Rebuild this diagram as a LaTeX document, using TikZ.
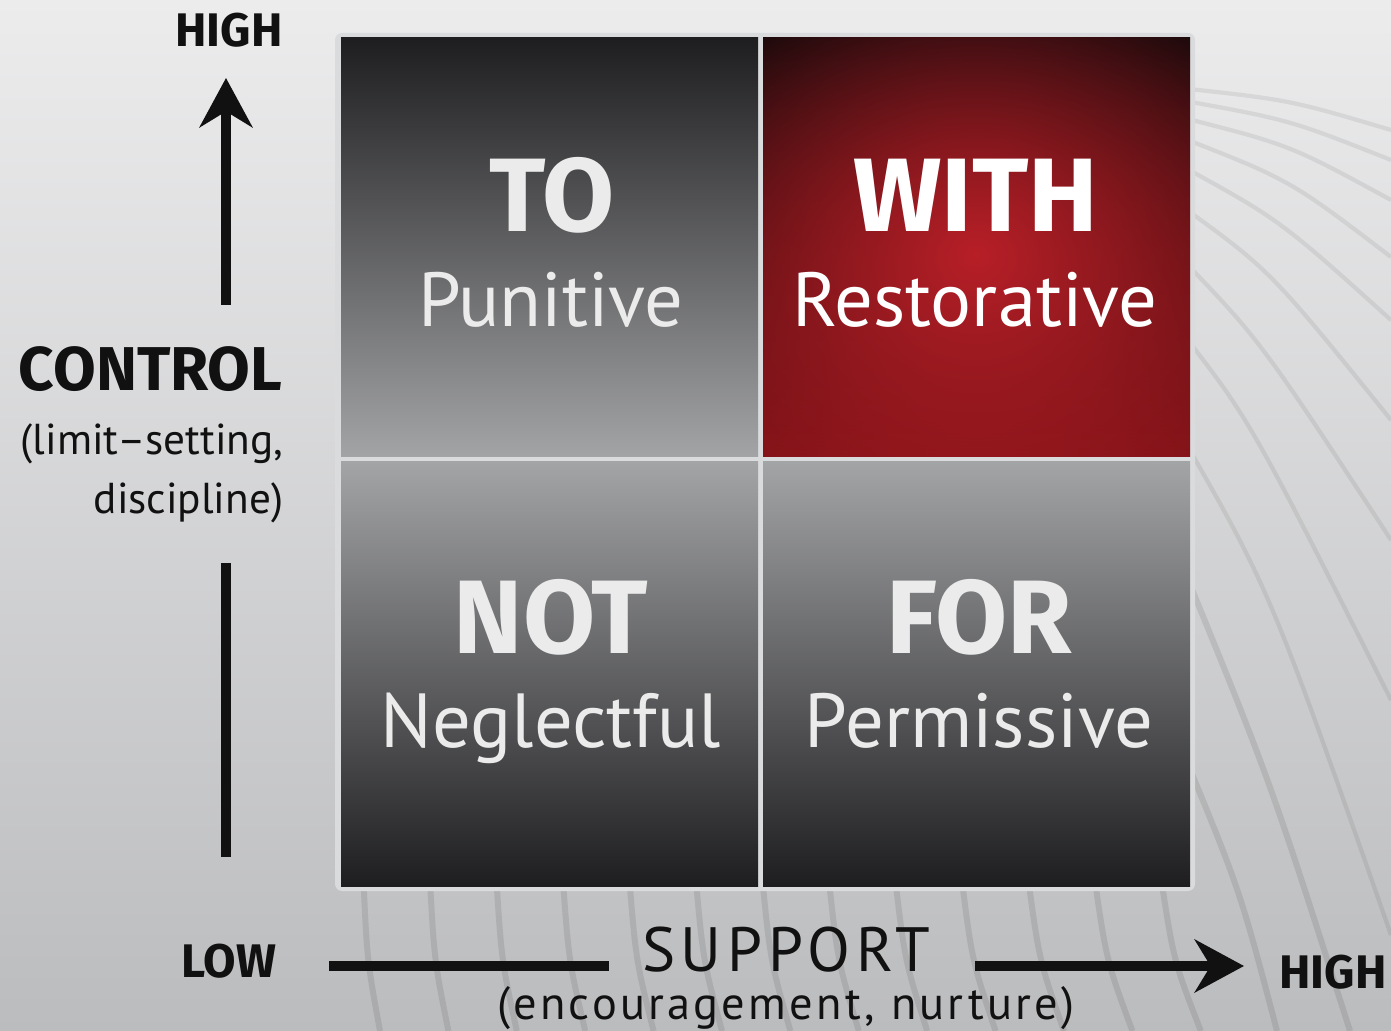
\documentclass[tikz,border=0pt]{standalone}
\usepackage{fontspec}
\setmainfont{PT Sans}
\newfontfamily\headfont{Fira Sans}
\usetikzlibrary{arrows.meta, calc, fadings}

\definecolor{bgtop}{HTML}{ECECED}
\definecolor{bgbot}{HTML}{BBBCBE}
\definecolor{framecol}{HTML}{DADBDC}
\definecolor{celldark}{HTML}{1E1E20}
\definecolor{celllight}{HTML}{A3A4A6}
\definecolor{redtop}{HTML}{1C0A0C}
\definecolor{redbot}{HTML}{821318}
\definecolor{redglow}{HTML}{B81F27}
\definecolor{ink}{HTML}{111111}
\definecolor{celltext}{HTML}{EBEBEB}

\tikzfading[name=glowfade, inner color=transparent!0, outer color=transparent!100]

\tikzset{
  axis/.style={ink, line width=2.6pt},
  tip/.style={-{Stealth[length=14pt, width=15pt, inset=4.5pt]}},
  bgline/.style={black, opacity=0.09, line width=1.7pt},
  thinline/.style={bgline, opacity=0.07, line width=1.2pt},
  axisword/.style={ink, anchor=base, inner sep=0pt, font=\fontsize{13.4}{16}\headfont\bfseries},
  axistitle/.style={ink, anchor=base, inner sep=0pt, font=\fontsize{17.8}{20}\selectfont},
  axisnote/.style={ink, anchor=base east, inner sep=0pt, font=\fontsize{12.3}{16}\selectfont},
  celltitle/.style={celltext, anchor=base, inner sep=0pt, font=\fontsize{29.7}{32}\headfont\bfseries},
  cellsub/.style={celltext, anchor=base, inner sep=0pt, font=\fontsize{21.8}{26}\selectfont},
}

\begin{document}
\begin{tikzpicture}[x=0.01cm, y=-0.01cm]
  \useasboundingbox (0,0) rectangle (1391,1031);
  \shade[top color=bgtop, bottom color=bgbot] (0,0) rectangle (1391,1031);

  % swirl lines in the background
  \begin{scope}
    \clip (0,0) rectangle (1391,1031);
    \foreach \ey/\kx/\ky/\xy in {88/1290/100/130, 100/1290/120/160, 117/1290/145/200,
        137/1290/180/257, 165/1280/220/320, 205/1270/270/420, 257/1260/340/540,
        330/1250/420/700, 433/1270/590/935}
      \draw[thinline] (1180,\ey) .. controls (\kx,\ky) .. (1391,\xy);
    \draw[bgline] (1180,560) .. controls (1270,780) .. (1350,1031);
    \draw[bgline] (1180,745) .. controls (1240,890) .. (1277,1031);
    \foreach \k in {0,...,12}
      \draw[bgline] ({363+66.4*\k},870) .. controls ({367+67.2*\k},960) .. ({380+68.4*\k},1031);
  \end{scope}

  % the grid
  \fill[framecol, rounded corners=2pt] (335,33) rectangle (1195,891);
  \shade[top color=celldark, bottom color=celllight] (341,38) rectangle (758,457);
  \shade[top color=redtop, bottom color=redbot] (763,38) rectangle (1190,457);
  \begin{scope}
    \clip (763,38) rectangle (1190,457);
    \fill[redglow, path fading=glowfade] (976,255) ellipse [x radius=330, y radius=290];
  \end{scope}
  \shade[top color=celllight, bottom color=celldark] (341,462) rectangle (758,886);
  \shade[top color=celllight, bottom color=celldark] (763,462) rectangle (1190,886);

  \node[celltitle] (to) at (552,232) {TO};
  \node[cellsub] (punitive) at (551,327) {Punitive};
  \node[celltitle, white] (with) at (976,232) {WITH};
  \node[cellsub, white] (restorative) at (975,327) {Restorative};
  \node[celltitle] (not) at (551,653) {NOT};
  \node[cellsub] (neglectful) at (551,747) {Neglectful};
  \node[celltitle] (for) at (979,653) {FOR};
  \node[cellsub] (permissive) at (979,747) {Permissive};

  % control axis
  \node[axisword] (highup) at (229,47) {HIGH};
  \node[axisword, anchor=base east, font=\fontsize{17.6}{20}\headfont\bfseries] (control) at (283,391) {CONTROL};
  \node[axisnote] (limit) at (284,455) {(limit–setting,};
  \node[axisnote] (discipline) at (284,514) {discipline)};
  \node[axisword] (low) at (229,977) {LOW};
  \coordinate (upfoot) at (226,305);
  \coordinate (uptip) at (226,78);
  \coordinate (downtop) at (226,563);
  \coordinate (downfoot) at (226,857);
  \draw[axis, tip] (upfoot) -- (uptip);
  \draw[axis] (downtop) -- (downfoot);

  % support axis
  \node[axistitle, font=\fontsize{17.8}{20}\selectfont\addfontfeatures{LetterSpace=9}] (support) at (786,971) {SUPPORT};
  \node[axistitle, font=\fontsize{13.2}{16}\selectfont\addfontfeatures{LetterSpace=7}] (nurture) at (786,1019) {(encouragement, nurture)};
  \node[axisword] (highright) at (1333,988) {HIGH};
  \coordinate (leftfoot) at (329,966);
  \coordinate (leftend) at (609,966);
  \coordinate (rightfoot) at (975,966);
  \coordinate (righttip) at (1244,966);
  \draw[axis] (leftfoot) -- (leftend);
  \draw[axis, tip] (rightfoot) -- (righttip);
\end{tikzpicture}
\end{document}
